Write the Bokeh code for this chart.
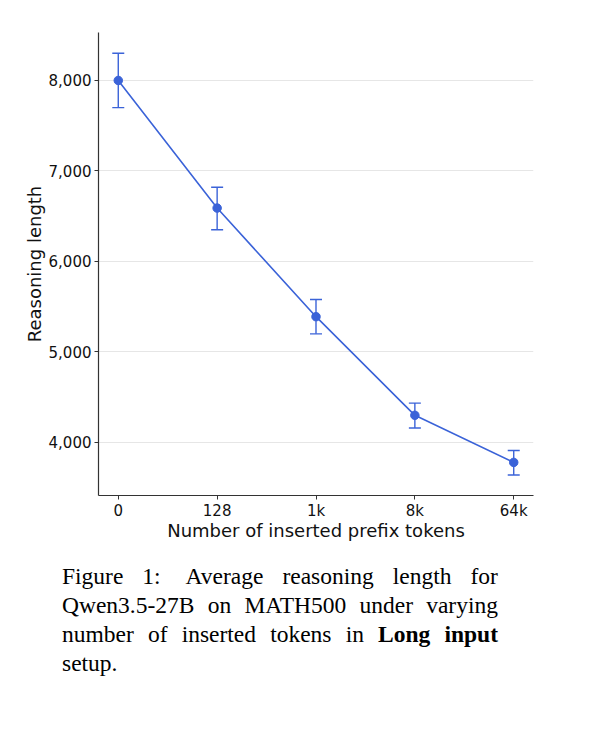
from bokeh.plotting import figure
from bokeh.models import (ColumnDataSource, Range1d, FixedTicker, NumeralTickFormatter,
                          Whisker, TeeHead, Div)
from bokeh.layouts import column
from bokeh.embed import file_html
from bokeh.resources import INLINE

# data
x_labels = ["0", "128", "1k", "8k", "64k"]
lengths = [8000, 6590, 5390, 4300, 3780]
err_upper = [8300, 6820, 5580, 4435, 3912]
err_lower = [7700, 6350, 5200, 4160, 3640]
y_ticks = [4000, 5000, 6000, 7000, 8000]

# caption, one entry per printed line (bold words marked with *)
caption_lines = [
    ["Figure", "1:", "Average", "reasoning", "length", "for"],
    ["Qwen3.5-27B", "on", "MATH500", "under", "varying"],
    ["number", "of", "inserted", "tokens", "in", "*Long", "*input"],
    ["setup."],
]

blue = "#3b63d8"
font = "DejaVu Sans"

source = ColumnDataSource(data=dict(
    x=list(range(len(x_labels))),
    y=lengths,
    upper=err_upper,
    lower=err_lower,
))

p = figure(width=576, height=545, output_backend="svg", toolbar_location=None,
           x_range=Range1d(-0.2, 4.2), y_range=Range1d(3414, 8530),
           min_border_left=98, min_border_right=43, min_border_top=32, min_border_bottom=50)
p.outline_line_color = None
p.background_fill_color = "white"
p.border_fill_color = "white"

p.line('x', 'y', source=source, line_color=blue, line_width=1.6)
p.scatter('x', 'y', source=source, size=8.5, fill_color=blue, line_color=blue)
p.add_layout(Whisker(base='x', upper='upper', lower='lower', source=source,
                     line_color=blue, line_width=1.4,
                     upper_head=TeeHead(size=12, line_color=blue, line_width=1.4),
                     lower_head=TeeHead(size=12, line_color=blue, line_width=1.4)))

p.xaxis.ticker = FixedTicker(ticks=list(range(len(x_labels))))
p.xaxis.major_label_overrides = {i: lab for i, lab in enumerate(x_labels)}
p.yaxis.ticker = FixedTicker(ticks=y_ticks)
p.yaxis.formatter = NumeralTickFormatter(format="0,0")

for ax in (p.xaxis[0], p.yaxis[0]):
    ax.axis_line_color = "#333333"
    ax.axis_line_width = 1.2
    ax.major_tick_line_color = "#333333"
    ax.major_tick_out = 4
    ax.major_tick_in = 0
    ax.minor_tick_line_color = None
    ax.major_label_standoff = 3
    ax.major_label_text_font = font
    ax.major_label_text_font_size = "15px"
    ax.major_label_text_color = "#111111"
    ax.axis_label_text_font = font
    ax.axis_label_text_font_size = "18px"
    ax.axis_label_text_font_style = "normal"
    ax.axis_label_text_color = "#111111"

p.xaxis.major_label_standoff = 2
p.xaxis.axis_label = "Number of inserted prefix tokens"
p.yaxis.axis_label = "Reasoning length"
p.xaxis.axis_label_standoff = -3
p.yaxis.axis_label_standoff = 1

p.xgrid.grid_line_color = None
p.ygrid.grid_line_color = "#e6e6e6"
p.ygrid.grid_line_width = 1

# justified caption: each word its own box, spread across the line
html = ['<div style="width: 436px; font-family: \'Liberation Serif\', \'Times New Roman\', serif; '
        'font-size: 23.5px; line-height: 29px; color: #000;">']
for i, words in enumerate(caption_lines):
    last = i == len(caption_lines) - 1
    justify = "flex-start" if last else "space-between"
    html.append('<div style="display: flex; width: 436px; column-gap: 5px; '
                'justify-content: %s; height: 29px;">' % justify)
    for w in words:
        style = "white-space: nowrap;"
        if w.startswith("*"):
            w = w[1:]
            style += " font-weight: bold;"
        if w == "1:":
            style += " margin-right: 6px;"
        html.append('<span style="%s">%s</span>' % (style, w))
    html.append('</div>')
html.append('</div>')

caption = Div(width=436, styles={"margin-left": "62px", "margin-top": "17px"},
              text="".join(html))

layout = column(p, caption, spacing=0)
open("out.html", "w").write(file_html(layout, INLINE))
